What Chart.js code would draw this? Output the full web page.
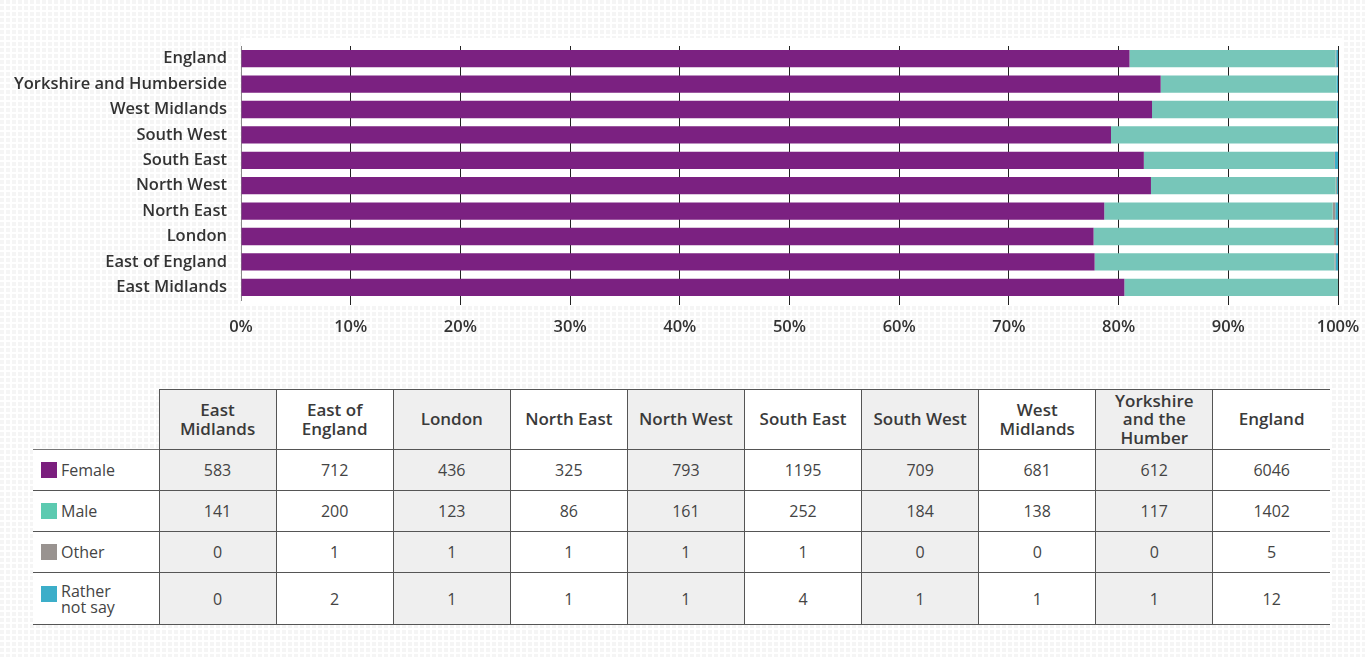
<!DOCTYPE html>
<html>
<head>
<meta charset="utf-8">
<script src="https://cdn.jsdelivr.net/npm/chart.js@4.4.1/dist/chart.umd.min.js"></script>
<style>
  html, body {
    margin: 0;
    padding: 0;
    width: 1365px;
    height: 657px;
    overflow: hidden;
    background-color: #f5f5f5;
    background-image:
      linear-gradient(90deg, transparent 4px, #fff 4px),
      linear-gradient(transparent 4px, #fff 4px);
    background-size: 6px 6px;
    font-family: "Open Sans", Roboto, sans-serif;
  }
  #chartBox {
    position: absolute;
    left: 0;
    top: 0;
    width: 1365px;
    height: 345px;
  }
  #dataTable {
    position: absolute;
    left: 33px;
    top: 389px;
    width: 1297px;
    border-collapse: collapse;
    table-layout: fixed;
    color: #444;
    font-size: 16px;
  }
  #dataTable th {
    font-weight: 600;
    font-size: 17px;
    color: #3a3a3a;
    height: 59px;
    line-height: 18.5px;
    border: 1px solid #555;
    border-right: none;
    padding: 0 2px;
  }
  #dataTable th.blank {
    border: none;
    background: transparent;
  }
  #dataTable td {
    text-align: center;
    border-top: 1px solid #777;
    border-bottom: 1px solid #555;
    border-left: 1px solid #555;
    height: 40px;
    padding: 0;
  }
  #dataTable td.rowname {
    text-align: left;
    border-left: none;
    padding-left: 8px;
    color: #444;
    background: #fff;
  }
  #dataTable tr.last td { height: 51px; }
  .grey { background: #efefef; }
  .white { background: #fff; }
  .swatch {
    display: inline-block;
    width: 16px;
    height: 16px;
    vertical-align: -2px;
    margin-right: 4px;
  }
  .two {
    display: inline-block;
    vertical-align: top;
    line-height: 16px;
  }
</style>
</head>
<body>
<div id="chartBox"><canvas id="myChart"></canvas></div>
<table id="dataTable"></table>
<script>
// regiones en el orden de la tabla
const regions = ['East Midlands', 'East of England', 'London', 'North East', 'North West',
    'South East', 'South West', 'West Midlands', 'Yorkshire and the Humber', 'England'];
const headerLines = [['East', 'Midlands'], ['East of', 'England'], ['London'], ['North East'], ['North West'],
    ['South East'], ['South West'], ['West', 'Midlands'], ['Yorkshire', 'and the', 'Humber'], ['England']];

// etiquetas de la grafica (de arriba a abajo)
const chartLabels = ['England', 'Yorkshire and Humberside', 'West Midlands', 'South West', 'South East',
    'North West', 'North East', 'London', 'East of England', 'East Midlands'];

const female = [583, 712, 436, 325, 793, 1195, 709, 681, 612, 6046];
const male = [141, 200, 123, 86, 161, 252, 184, 138, 117, 1402];
const other = [0, 1, 1, 1, 1, 1, 0, 0, 0, 5];
const notSay = [0, 2, 1, 1, 1, 4, 1, 1, 1, 12];

const xTicks = [0, 10, 20, 30, 40, 50, 60, 70, 80, 90, 100];

const series = [
    { name: 'Female', values: female, bar: '#7b2181', swatch: '#7b1f7e' },
    { name: 'Male', values: male, bar: '#77c6b9', swatch: '#5ccab0' },
    { name: 'Other', values: other, bar: '#999390', swatch: '#999390' },
    { name: 'Rather not say', values: notSay, bar: '#3caec9', swatch: '#3caec9' }
];

const labelFont = { family: 'Open Sans', size: 16.5, weight: '600' };

function main() {
    const totals = regions.map((r, i) => female[i] + male[i] + other[i] + notSay[i]);

    // porcentajes, invertidos para que England quede arriba
    const datasets = series.map(s => ({
        label: s.name,
        data: s.values.map((v, i) => v / totals[i] * 100).reverse(),
        backgroundColor: s.bar,
        borderWidth: 0,
        barPercentage: 0.68,
        categoryPercentage: 1
    }));

    const whiteArea = {
        id: 'whiteArea',
        beforeDraw(chart) {
            const { ctx, chartArea } = chart;
            ctx.save();
            ctx.fillStyle = '#fff';
            ctx.fillRect(chartArea.left, chartArea.top - 8, chartArea.right - chartArea.left + 6, chartArea.bottom - chartArea.top + 13);
            ctx.restore();
        }
    };

    const gridColor = ctx => ctx.index === 0 ? 'rgba(0,0,0,0)' : '#222';

    new Chart(document.getElementById('myChart'), {
        type: 'bar',
        data: { labels: chartLabels, datasets: datasets },
        options: {
            indexAxis: 'y',
            responsive: true,
            maintainAspectRatio: false,
            animation: false,
            layout: { padding: { top: 46, right: 27, left: 0, bottom: 0 } },
            plugins: {
                legend: { display: false },
                tooltip: { enabled: false }
            },
            scales: {
                x: {
                    stacked: true,
                    min: 0,
                    max: 100,
                    afterBuildTicks: axis => { axis.ticks = xTicks.map(v => ({ value: v })); },
                    ticks: {
                        padding: 12,
                        color: '#333',
                        font: labelFont,
                        callback: v => v + '%'
                    },
                    grid: {
                        drawTicks: true,
                        tickLength: 5,
                        color: gridColor,
                        tickColor: gridColor,
                        lineWidth: 1
                    },
                    border: { display: false },
                    afterFit: axis => {
                        axis.height = 45;
                        axis.paddingLeft = 0;
                        axis.paddingRight = 0;
                    }
                },
                y: {
                    stacked: true,
                    ticks: {
                        padding: 14,
                        color: '#333',
                        font: labelFont
                    },
                    grid: { display: false, drawTicks: false },
                    border: { display: true, color: '#888', width: 1 },
                    afterFit: axis => { axis.width = 241; }
                }
            }
        },
        plugins: [whiteArea]
    });

    fillTable();
}

function fillTable() {
    const table = document.getElementById('dataTable');
    let html = '<colgroup><col style="width:126px">';
    regions.forEach(() => { html += '<col>'; });
    html += '</colgroup><tr><th class="blank"></th>';
    headerLines.forEach((lines, i) => {
        html += `<th class="${i % 2 === 0 ? 'grey' : 'white'}">${lines.join('<br>')}</th>`;
    });
    html += '</tr>';
    series.forEach((s, r) => {
        const label = s.name === 'Rather not say'
            ? '<span class="two">Rather<br>not say</span>'
            : s.name;
        html += `<tr class="${r === series.length - 1 ? 'last' : ''}"><td class="rowname">` +
            `<span class="swatch" style="background:${s.swatch}"></span>${label}</td>`;
        s.values.forEach((v, i) => {
            html += `<td class="${i % 2 === 0 ? 'grey' : 'white'}">${v}</td>`;
        });
        html += '</tr>';
    });
    table.innerHTML = html;
}

document.addEventListener('DOMContentLoaded', function () {
    main();
});
</script>
</body>
</html>
